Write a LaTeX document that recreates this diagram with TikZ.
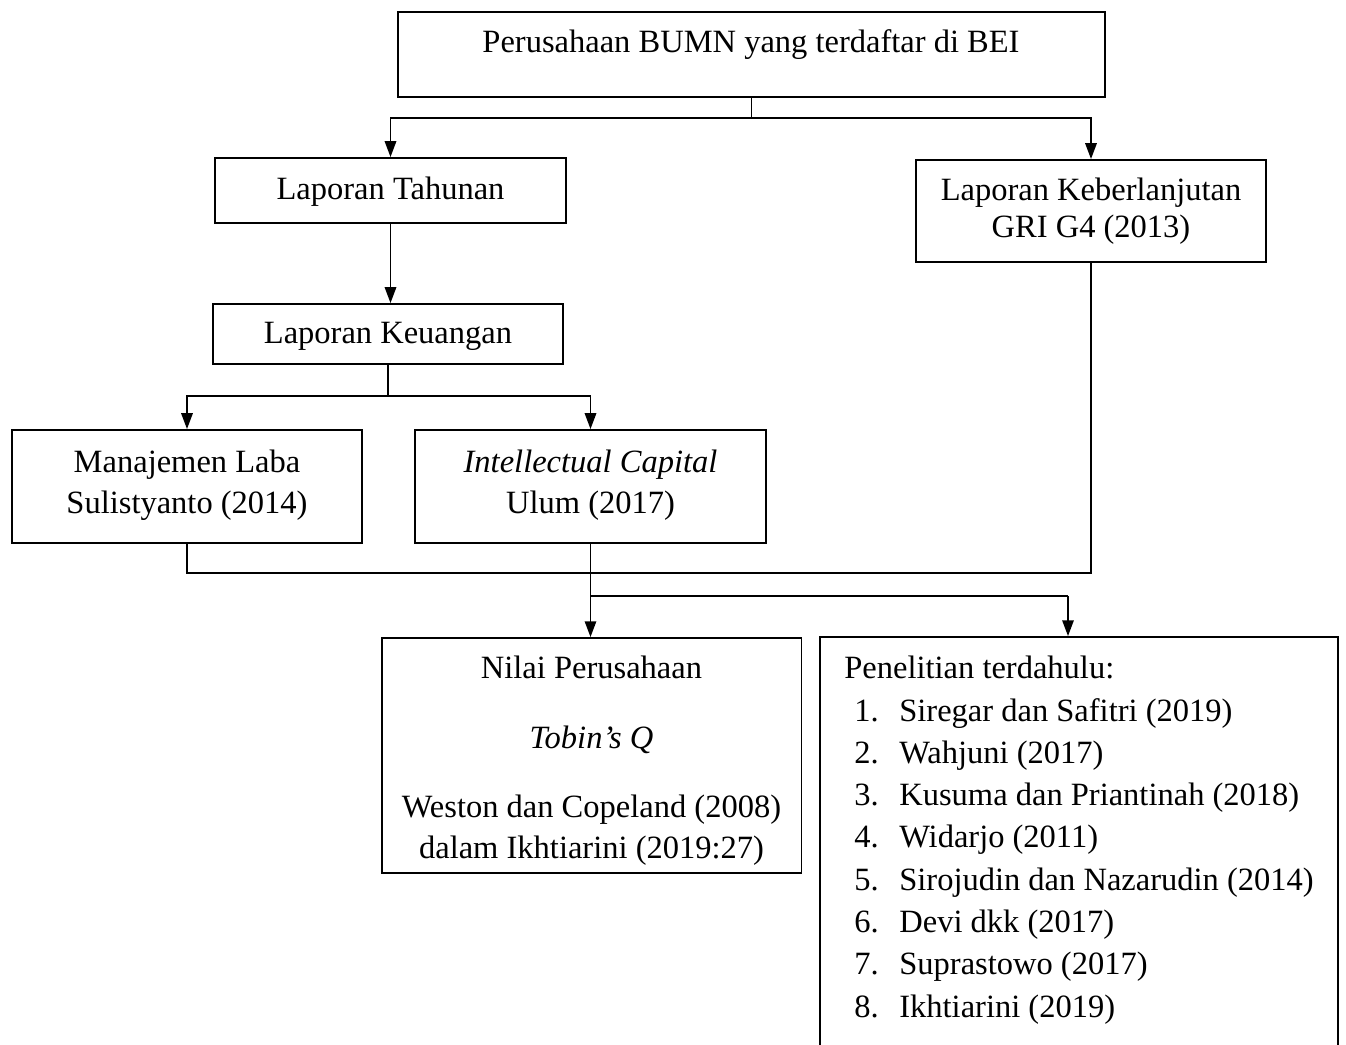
\documentclass[tikz,border=0pt]{standalone}
\usepackage{fontspec}
\setmainfont{Liberation Serif}
\usetikzlibrary{arrows.meta}
\newcommand\diagfont{\fontsize{18.5}{22}\selectfont}
\begin{document}
\begin{tikzpicture}[x=0.02cm,y=-0.02cm,
  box/.style={draw, line width=1.1pt, rectangle, inner sep=0pt},
  txt/.style={font=\diagfont, inner sep=0pt, anchor=base},
  ltxt/.style={font=\diagfont, inner sep=0pt, anchor=base west},
  conn/.style={line width=1pt},
  arr/.style={line width=1pt, -{Triangle[length=9pt,width=6.5pt]}}]
\useasboundingbox (0,0) rectangle (1346,1045);
% boxes
\node[box, minimum width=14.14cm, minimum height=1.7cm] (top) at (751.5,54.5) {};
\node[box, minimum width=7.02cm, minimum height=1.3cm] (LT) at (390.5,190.5) {};
\node[box, minimum width=7.0cm, minimum height=2.04cm] (LK) at (1091,211) {};
\node[box, minimum width=7.0cm, minimum height=1.2cm] (LKeu) at (388,334) {};
\node[box, minimum width=7.0cm, minimum height=2.26cm] (ML) at (187,486.5) {};
\node[box, minimum width=7.02cm, minimum height=2.26cm] (IC) at (590.5,486.5) {};
\node[box, minimum width=8.4cm, minimum height=4.7cm] (NP) at (591.5,755.5) {};
\node[box, minimum width=10.36cm, minimum height=8.6cm] (PT) at (1079,852) {};
% texts
\node[txt] (t1) at (751,52) {Perusahaan BUMN yang terdaftar di BEI};
\node[txt] (t2) at (390.5,199) {Laporan Tahunan};
\node[txt] (t3) at (1091,200) {Laporan Keberlanjutan};
\node[txt] (t4) at (1091,237) {GRI G4 (2013)};
\node[txt] (t5) at (388,343) {Laporan Keuangan};
\node[txt] (t6) at (187,472) {Manajemen Laba};
\node[txt] (t7) at (187,513) {Sulistyanto (2014)};
\node[txt] (t8) at (590.5,472) {\itshape Intellectual Capital};
\node[txt] (t9) at (590.5,513) {Ulum (2017)};
\node[txt] (t10) at (591.5,678) {Nilai Perusahaan};
\node[txt] (t11) at (591.5,748) {\itshape Tobin’s Q};
\node[txt] (t12) at (591.5,817) {Weston dan Copeland (2008)};
\node[txt] (t13) at (591.5,858) {dalam Ikhtiarini (2019:27)};
\node[ltxt] (h) at (844,678) {Penelitian terdahulu:};
\foreach \i/\t [count=\k from 0] in {1/Siregar dan Safitri (2019),2/Wahjuni (2017),3/Kusuma dan Priantinah (2018),4/Widarjo (2011),5/Sirojudin dan Nazarudin (2014),6/Devi dkk (2017),7/Suprastowo (2017),8/Ikhtiarini (2019)}{
  \node[ltxt] (n\i) at (854,{721+42.3*\k}) {\i.};
  \node[ltxt] (it\i) at (899,{721+42.3*\k}) {\t};
}
% connectors
\coordinate (j1) at (top.south |- 0,118);
\draw[conn] (top.south) -- (j1);
\draw[arr] (j1) -| (LT.north);
\draw[arr] (j1) -| (LK.north);
\draw[arr] (LT.south) -- (LT.south |- LKeu.north);
\coordinate (j2) at (LKeu.south |- 0,396);
\draw[conn] (LKeu.south) -- (j2);
\draw[arr] (j2) -| (ML.north);
\draw[arr] (j2) -| (IC.north);
\coordinate (j3) at (IC.south |- 0,573);
\draw[conn] (ML.south) -- (ML.south |- j3) -- (LK.south |- j3) -- (LK.south);
\coordinate (j4) at (IC.south |- 0,596);
\draw[arr] (IC.south) -- (IC.south |- NP.north);
\coordinate (p) at (1068,596);
\draw[conn] (j4) -- (p);
\draw[arr] (p) -- (p |- PT.north);
\end{tikzpicture}
\end{document}
